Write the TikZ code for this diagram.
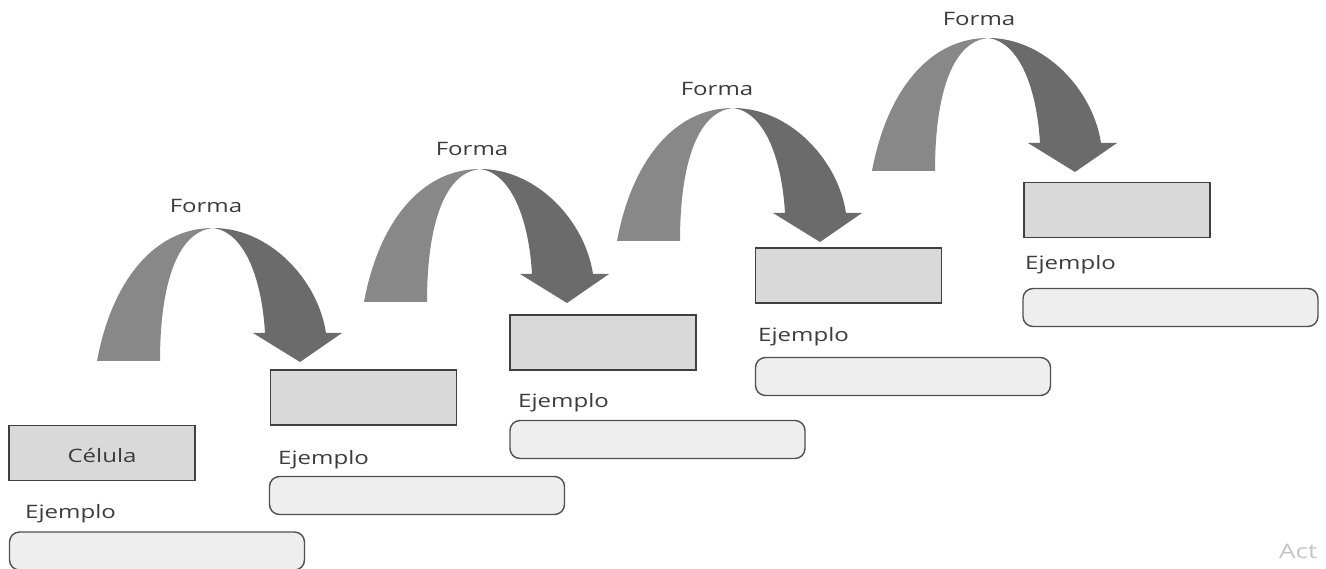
\documentclass[tikz,border=0pt]{standalone}
\usepackage{fontspec}
\usepackage{graphicx}
\setmainfont{Open Sans}
\definecolor{txtgray}{HTML}{3C3C3C}
\definecolor{armlight}{HTML}{888888}
\definecolor{armdark}{HTML}{6B6B6B}
\definecolor{boxfill}{HTML}{D9D9D9}
\definecolor{boxline}{HTML}{404040}
\definecolor{pillfill}{HTML}{EEEEEE}
\definecolor{pillline}{HTML}{505050}
\definecolor{wmgray}{HTML}{C4C4C4}
\newcommand\wide[1]{\scalebox{1.3}[1]{#1}}
\tikzset{
  lbl/.style={text=txtgray, font=\fontsize{18.5}{20}\selectfont, inner sep=0pt},
  levelbox/.style={draw=boxline, fill=boxfill, line width=1.4pt, minimum width=186pt, minimum height=55pt, inner sep=0pt},
  pill/.style={draw=pillline, fill=pillfill, line width=1.4pt, rounded corners=10pt, minimum width=295pt, minimum height=38pt, inner sep=0pt},
  bentarrow/.pic={
    \fill[armlight] (-116,133) .. controls (-101,52) and (-58,0) .. (0,0)
      .. controls (-38,4) and (-53,62) .. (-53,133) -- cycle;
    \fill[armdark] (0,0) .. controls (57,0) and (105,52) .. (113,105)
      -- (129,105) -- (87,134) -- (40,105) -- (52,105)
      .. controls (49,52) and (32,4) .. (0,0) -- cycle;
  }
}
\begin{document}
\begin{tikzpicture}[x=1pt,y=-1pt]
\useasboundingbox (0,0) rectangle (1326,569);
% arrows
\pic at (213,228) {bentarrow};
\pic at (480,169) {bentarrow};
\pic at (733,108) {bentarrow};
\pic at (988,38) {bentarrow};
\node[lbl, anchor=base] (f1) at (206,213) {\wide{Forma}};
\node[lbl, anchor=base] (f2) at (472,156) {\wide{Forma}};
\node[lbl, anchor=base] (f3) at (717,96) {\wide{Forma}};
\node[lbl, anchor=base] (f4) at (979,26) {\wide{Forma}};
% level boxes
\node[levelbox] (b1) at (102,453) {};
\node[lbl, anchor=base] (c1) at (102,462) {\wide{Célula}};
\node[levelbox] (b2) at (363.5,397.5) {};
\node[levelbox] (b3) at (603,342.5) {};
\node[levelbox] (b4) at (848.5,275.5) {};
\node[levelbox] (b5) at (1117,210) {};
% example labels
\node[lbl, anchor=base west] (e1) at (25,518) {\wide{Ejemplo}};
\node[lbl, anchor=base west] (e2) at (278,464) {\wide{Ejemplo}};
\node[lbl, anchor=base west] (e3) at (518,407) {\wide{Ejemplo}};
\node[lbl, anchor=base west] (e4) at (758,342) {\wide{Ejemplo}};
\node[lbl, anchor=base west] (e5) at (1025,270) {\wide{Ejemplo}};
% example pills
\node[pill] (p1) at (157,551) {};
\node[pill] (p2) at (417,495.5) {};
\node[pill] (p3) at (657.5,439.5) {};
\node[pill] (p4) at (903,376.5) {};
\node[pill] (p5) at (1170.5,307.5) {};
% watermark fragment
\node[text=wmgray, font=\fontsize{20}{22}\selectfont, inner sep=0pt, anchor=base west] (wm) at (1279,558) {\wide{Act}};
\end{tikzpicture}
\end{document}
